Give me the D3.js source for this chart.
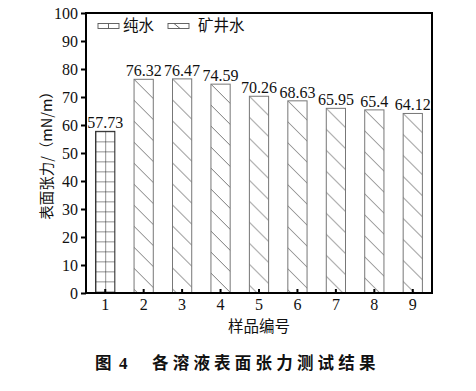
<!DOCTYPE html>
<html>
<head>
<meta charset="utf-8">
<script src="https://cdn.jsdelivr.net/npm/d3@7/dist/d3.min.js"></script>
<style>
  html, body { margin: 0; padding: 0; background: #fff; }
  svg { display: block; }
  .num { font-family: "Liberation Serif", "DejaVu Serif", serif; }
  .cjk { font-family: "Noto Sans CJK SC", sans-serif; }
</style>
</head>
<body>
<svg id="chart" width="476" height="391"></svg>
<script>
// Surface tension of each sample (mN/m)
const samples = ["1", "2", "3", "4", "5", "6", "7", "8", "9"];
const values = [57.73, 76.32, 76.47, 74.59, 70.26, 68.63, 65.95, 65.4, 64.12];
const sampleType = ["纯水", "矿井水", "矿井水", "矿井水", "矿井水", "矿井水", "矿井水", "矿井水", "矿井水"];
const legendItems = ["纯水", "矿井水"];
const yTicks = [0, 10, 20, 30, 40, 50, 60, 70, 80, 90, 100];

const svg = d3.select("#chart");
const margin = { left: 86, top: 13, right: 44, bottom: 98 };
const W = 476, H = 391;
const x0 = margin.left, x1 = W - margin.right;
const y0 = H - margin.bottom, y1 = margin.top;

const x = d3.scaleBand().domain(samples).range([x0, x1]).paddingInner(0.5).paddingOuter(0.25);
const y = d3.scaleLinear().domain([0, 100]).range([y0, y1]);
const bw = x.bandwidth();

const defs = svg.append("defs");

// Fill patterns, one per bar so each starts at its bar's top-left corner
samples.forEach((s, i) => {
  const bx = x(s), by = y(values[i]);
  if (sampleType[i] === "纯水") {
    const p = defs.append("pattern").attr("id", "pat" + i)
      .attr("patternUnits", "userSpaceOnUse")
      .attr("x", bx).attr("y", by).attr("width", bw / 2).attr("height", 10);
    p.append("path").attr("d", `M0,0H${bw / 2}M0,0V10`)
      .attr("stroke", "#222").attr("stroke-width", 1).attr("fill", "none");
  } else {
    const p = defs.append("pattern").attr("id", "pat" + i)
      .attr("patternUnits", "userSpaceOnUse")
      .attr("x", bx).attr("y", by).attr("width", 21).attr("height", 21);
    p.append("path").attr("d", "M0,0L21,21M-2,19L2,23M19,-2L23,2")
      .attr("stroke", "#555").attr("stroke-width", 0.8).attr("fill", "none");
  }
});

// Bars
svg.append("g").selectAll("rect").data(samples).join("rect")
  .attr("x", d => x(d))
  .attr("y", (d, i) => y(values[i]))
  .attr("width", bw)
  .attr("height", (d, i) => y0 - y(values[i]))
  .attr("fill", (d, i) => `url(#pat${i})`)
  .attr("stroke", (d, i) => sampleType[i] === "纯水" ? "#222" : "#777")
  .attr("stroke-width", 1);

// Value labels
svg.append("g").selectAll("text").data(samples).join("text")
  .attr("class", "num")
  .attr("x", d => x(d) + bw / 2)
  .attr("y", (d, i) => y(values[i]) - 3)
  .attr("text-anchor", "middle")
  .attr("font-size", 16).attr("fill", "#111")
  .text((d, i) => String(values[i]));

// Y axis: outward ticks
const yAxis = d3.axisLeft(y).tickValues(yTicks).tickSize(5).tickPadding(3);
const gy = svg.append("g").attr("transform", `translate(${x0},0)`).call(yAxis)
  .attr("font-family", null).attr("font-size", null);
gy.select(".domain").remove();
gy.selectAll(".tick line").attr("stroke", "#000").attr("stroke-width", 2);
gy.selectAll(".tick text").attr("class", "num").attr("font-size", 16).attr("fill", "#111");

// X axis: inward ticks
const xAxis = d3.axisBottom(x).tickSize(-4).tickPadding(6);
const gx = svg.append("g").attr("transform", `translate(0,${y0})`).call(xAxis)
  .attr("font-family", null).attr("font-size", null);
gx.select(".domain").remove();
gx.selectAll(".tick line").attr("stroke", "#000").attr("stroke-width", 2);
gx.selectAll(".tick text").attr("class", "num").attr("font-size", 16).attr("fill", "#111");

// Frame
svg.append("rect").attr("x", x0).attr("y", y1).attr("width", x1 - x0).attr("height", y0 - y1)
  .attr("fill", "none").attr("stroke", "#000").attr("stroke-width", 2);

// Legend
const lg = svg.append("g");
const sw = [{ x: 98, tx: 123 }, { x: 168, tx: 198 }];
legendItems.forEach((name, i) => {
  const sx = sw[i].x, sy = 23.5, swW = 21, swH = 5;
  lg.append("rect").attr("x", sx).attr("y", sy).attr("width", swW).attr("height", swH)
    .attr("fill", "none").attr("stroke", "#555").attr("stroke-width", 0.9);
  if (i === 0) {
    lg.append("line").attr("x1", sx + swW / 2).attr("x2", sx + swW / 2).attr("y1", sy).attr("y2", sy + swH)
      .attr("stroke", "#555").attr("stroke-width", 0.9);
  } else {
    lg.append("line").attr("x1", sx + 6).attr("x2", sx + 12).attr("y1", sy).attr("y2", sy + swH)
      .attr("stroke", "#555").attr("stroke-width", 0.9);
  }
  lg.append("text").attr("class", "cjk").attr("x", sw[i].tx).attr("y", 26).attr("dy", "0.35em")
    .attr("font-size", 15.5).attr("fill", "#111")
    .text(name);
});

// Axis titles
svg.append("text").attr("class", "cjk")
  .attr("transform", `translate(47,152) rotate(-90)`)
  .attr("text-anchor", "middle").attr("dy", "0.35em")
  .attr("font-size", 14.5).attr("fill", "#111")
  .text("表面张力/（mN/m）");

svg.append("text").attr("class", "cjk")
  .attr("x", (x0 + x1) / 2).attr("y", 327).attr("dy", "0.35em")
  .attr("text-anchor", "middle")
  .attr("font-size", 15.5).attr("fill", "#111")
  .text("样品编号");

// Figure caption
const cap = svg.append("g").attr("font-weight", "bold").attr("fill", "#111");
cap.append("text").attr("class", "cjk").attr("x", 95).attr("y", 363).attr("dy", "0.35em")
  .attr("font-size", 16.5).text("图");
cap.append("text").attr("class", "num").attr("x", 119).attr("y", 363).attr("dy", "0.35em")
  .attr("font-size", 17).text("4");
cap.append("text").attr("class", "cjk").attr("x", 152).attr("y", 363).attr("dy", "0.35em")
  .attr("font-size", 16.5).attr("letter-spacing", 4.2)
  .text("各溶液表面张力测试结果");
</script>
</body>
</html>
